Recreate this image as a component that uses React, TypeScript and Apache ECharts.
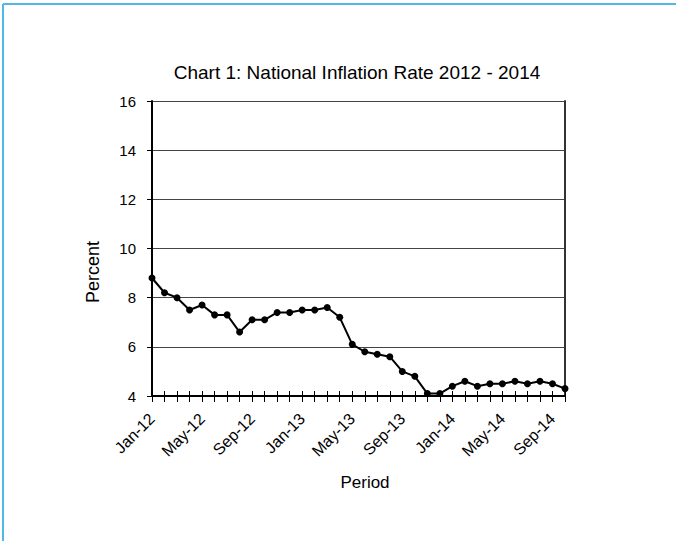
import React, { useEffect, useRef } from "react";
import * as echarts from "echarts";

const months = [
  "Jan-12","Feb-12","Mar-12","Apr-12","May-12","Jun-12","Jul-12","Aug-12","Sep-12","Oct-12","Nov-12","Dec-12",
  "Jan-13","Feb-13","Mar-13","Apr-13","May-13","Jun-13","Jul-13","Aug-13","Sep-13","Oct-13","Nov-13","Dec-13",
  "Jan-14","Feb-14","Mar-14","Apr-14","May-14","Jun-14","Jul-14","Aug-14","Sep-14","Oct-14",
];
const inflation = [
  8.8, 8.2, 8.0, 7.5, 7.7, 7.3, 7.3, 6.6, 7.1, 7.1, 7.4, 7.4,
  7.5, 7.5, 7.6, 7.2, 6.1, 5.8, 5.7, 5.6, 5.0, 4.8, 4.1, 4.1,
  4.4, 4.6, 4.4, 4.5, 4.5, 4.6, 4.5, 4.6, 4.5, 4.3,
];
const titleText = "Chart 1: National Inflation Rate 2012 - 2014";
const xName = "Period";
const yName = "Percent";

export default function App() {
  const ref = useRef<HTMLDivElement>(null);
  useEffect(() => {
    if (!ref.current) return;
    const chart = echarts.init(ref.current, null, { renderer: "svg" });
    const font = "Liberation Sans, Arial, sans-serif";
    chart.setOption({
      animation: false,
      backgroundColor: "#fff",
      textStyle: { fontFamily: font },
      title: {
        text: titleText,
        left: 352,
        top: 58,
        textAlign: "center",
        textStyle: { fontSize: 19, fontWeight: "normal", color: "#000", fontFamily: font },
      },
      grid: { left: 152, right: 111, top: 101, bottom: 145, containLabel: false },
      xAxis: [
        {
          type: "category",
          data: months,
          boundaryGap: false,
          axisLine: { lineStyle: { color: "#000", width: 2 } },
          axisTick: { show: true, interval: 0, inside: false, length: 6, lineStyle: { color: "#000", width: 1 } },
          axisLabel: { interval: 3, rotate: 45, fontSize: 16, color: "#000", margin: 20, fontFamily: font },
          splitLine: { show: false },
        },
        {
          type: "category",
          data: months,
          boundaryGap: false,
          position: "bottom",
          axisLine: { show: false },
          axisTick: { show: true, interval: 0, inside: true, length: 5, lineStyle: { color: "#000", width: 1 } },
          axisLabel: { show: false },
          splitLine: { show: false },
        },
      ],
      yAxis: [
        {
          type: "value",
          min: 4,
          max: 16,
          interval: 2,
          axisLine: { show: true, lineStyle: { color: "#000", width: 2 } },
          axisTick: { show: true, length: 5, lineStyle: { color: "#000" } },
          axisLabel: { fontSize: 15, color: "#000", margin: 16, fontFamily: font },
          splitLine: { show: true, lineStyle: { color: "#444", width: 1 } },
        },
        {
          type: "value",
          min: 4,
          max: 16,
          interval: 2,
          position: "right",
          axisLine: { show: true, lineStyle: { color: "#333", width: 2 } },
          axisTick: { show: false },
          axisLabel: { show: false },
          splitLine: { show: false },
        },
      ],
      graphic: [
        { type: "line", shape: { x1: 3, y1: 4, x2: 3, y2: 541 }, style: { stroke: "#4fb8e6", lineWidth: 2 } },
        { type: "line", shape: { x1: 3, y1: 4, x2: 676, y2: 4 }, style: { stroke: "#4fb8e6", lineWidth: 2 } },
        {
          type: "text",
          x: 365,
          y: 482,
          style: { text: xName, fontSize: 17, fill: "#000", fontFamily: font, align: "center", verticalAlign: "middle" },
        },
        {
          type: "text",
          x: 93,
          y: 272,
          rotation: Math.PI / 2,
          style: { text: yName, fontSize: 18, fill: "#000", fontFamily: font, align: "center", verticalAlign: "middle" },
        },
      ],
      series: [
        {
          type: "line",
          data: inflation,
          xAxisIndex: 0,
          yAxisIndex: 0,
          symbol: "circle",
          symbolSize: 7,
          itemStyle: { color: "#000" },
          lineStyle: { color: "#000", width: 2 },
        },
      ],
    });
    return () => chart.dispose();
  }, []);
  return <div ref={ref} style={{ width: 676, height: 541, position: "absolute", left: 0, top: 0 }} />;
}
